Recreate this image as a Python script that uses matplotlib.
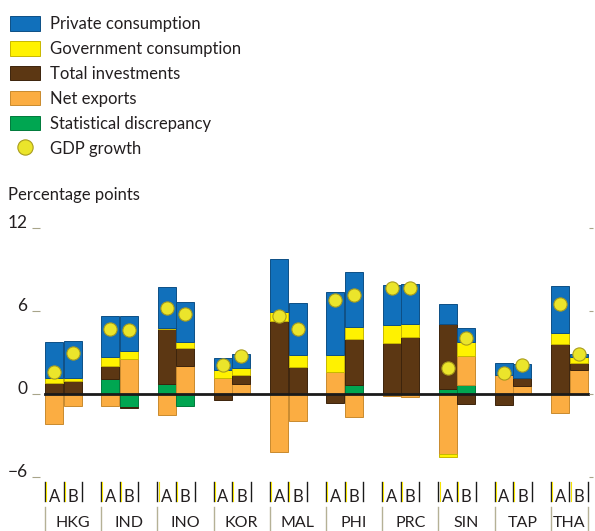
import numpy as np
import matplotlib.pyplot as plt
from matplotlib.patches import Patch
from matplotlib.lines import Line2D

plt.rcParams['font.family'] = ['Lato', 'DejaVu Sans']

countries = ['HKG', 'IND', 'INO', 'KOR', 'MAL', 'PHI', 'PRC', 'SIN', 'TAP', 'THA']

# A and B values for each country, percentage points
private_A = [2.60, 3.00, 2.97, 0.92, 3.79, 4.60, 2.93, 1.42, 0.91, 3.42]
private_B = [2.68, 2.52, 2.91, 0.99, 3.79, 3.96, 2.86, 0.99, 0.99, 0.17]
gov_A = [0.31, 0.66, 0.10, 0.52, 0.67, 1.20, 1.26, -0.19, 0.00, 0.79]
gov_B = [0.22, 0.60, 0.43, 0.50, 0.87, 0.89, 0.98, 1.01, 0.00, 0.43]
inv_A = [0.82, 0.94, 3.95, -0.45, 5.30, -0.65, 3.70, 4.74, -0.79, 3.63]
inv_B = [0.91, -0.05, 1.30, 0.62, 1.94, 3.31, 4.10, -0.76, 0.55, 0.53]
netexp_A = [-2.18, -0.90, -1.53, 1.18, -4.20, 1.61, -0.15, -4.39, 1.35, -1.39]
netexp_B = [-0.91, 2.50, 2.01, 0.75, -1.94, -1.65, -0.20, 2.10, 0.60, 1.73]
disc_A = [0.00, 1.06, 0.75, 0.00, 0.00, 0.00, 0.00, 0.34, 0.00, 0.00]
disc_B = [0.00, -0.98, -0.86, 0.00, 0.00, 0.65, 0.00, 0.68, 0.00, 0.00]
gdp_A = [1.58, 4.70, 6.26, 2.06, 5.64, 6.81, 7.68, 1.90, 1.49, 6.50]
gdp_B = [2.98, 4.60, 5.78, 2.78, 4.68, 7.15, 7.68, 4.06, 2.11, 2.86]

labels = ['Private consumption', 'Government consumption', 'Total investments',
          'Net exports', 'Statistical discrepancy']
colors = ['#1170bb', '#fff200', '#5c3713', '#fbad42', '#00a651']
edges = ['#0d4f86', '#c8b800', '#3d240c', '#c98a2e', '#007a3b']

# stacking order from the zero line outward
stack_A = [disc_A, netexp_A, inv_A, gov_A, private_A]
stack_B = [disc_B, netexp_B, inv_B, gov_B, private_B]
stack_col = [4, 3, 2, 1, 0]

fig = plt.figure(figsize=(5.95, 5.31), dpi=100)
ax = fig.add_axes([40 / 595, 54.3 / 531, 553 / 595, 248.4 / 531])

w = 0.33
x = np.arange(len(countries))
xA = x + w / 2
xB = x + w * 1.5

for xs, stack in [(xA, stack_A), (xB, stack_B)]:
    pos = np.zeros(len(countries))
    neg = np.zeros(len(countries))
    for vals, ci in zip(stack, stack_col):
        v = np.array(vals)
        bottom = np.where(v >= 0, pos, neg)
        ax.bar(xs, v, w * 0.97, bottom=bottom, color=colors[ci],
               edgecolor=edges[ci], linewidth=0.7, zorder=2)
        pos = pos + np.where(v > 0, v, 0)
        neg = neg + np.where(v < 0, v, 0)

ax.plot(xA, gdp_A, 'o', ms=9.5, mfc='#ebe52b', mec='#a99c1c', mew=0.8, zorder=4)
ax.plot(xB, gdp_B, 'o', ms=9.5, mfc='#ebe52b', mec='#a99c1c', mew=0.8, zorder=4)

ax.plot([xA[0] - w / 2, xB[-1] + w / 2], [0, 0], color='#1a1a1a', lw=2, zorder=3)

ax.set_xlim(-0.089, 9.75)
ax.set_ylim(-6, 12)
ax.set_yticks([-6, 0, 6, 12])
ax.set_yticklabels(['\u22126', '0', '6', '12'], fontsize=12.5, color='#231f20')
ax.tick_params(axis='y', length=6, width=0.8, color='#a8a48a', pad=3)
for lab in ax.get_yticklabels():
    lab.set_verticalalignment('baseline')
ax.set_xticks([])
for s in ax.spines.values():
    s.set_visible(False)
ax2 = ax.twinx()
ax2.set_ylim(-6, 12)
ax2.set_yticks([-6, 0, 6, 12])
ax2.set_yticklabels([])
ax2.tick_params(axis='y', length=3, width=0.8, color='#a8a48a', direction='in')
for s in ax2.spines.values():
    s.set_visible(False)

# category axis below the plot
trans = ax.get_xaxis_transform()
def fy(p):
    # pixel row from the top of the figure -> axes fraction
    return (531 - p - 54.3) / 248.4

right_end = xB[-1] + w / 2
for i in range(len(countries)):
    for xe in [xA[i] - w / 2, xA[i] + w / 2, xB[i] + w / 2]:
        ax.plot([xe, xe], [fy(482), fy(501)], color='#1a1a1a', lw=1.0,
                transform=trans, clip_on=False)
    for xe in [xA[i] - w / 2, xA[i] + w / 2]:
        ax.plot([xe + 0.02, xe + 0.02], [fy(482), fy(501)], color='#f5e400',
                lw=0.8, transform=trans, clip_on=False)
    ax.text(xA[i], fy(497), 'A', ha='center', va='center', fontsize=12,
            color='#231f20', transform=trans, clip_on=False)
    ax.text(xB[i], fy(497), 'B', ha='center', va='center', fontsize=12,
            color='#231f20', transform=trans, clip_on=False)
    ax.plot([x[i], x[i]], [fy(507), fy(531)], color='#b5b196', lw=1.0,
            transform=trans, clip_on=False)
    xr = min(x[i] + 1, right_end)
    ax.text((x[i] + xr) / 2, fy(523), countries[i], ha='center', va='center',
            fontsize=11.5, color='#231f20', transform=trans, clip_on=False)
ax.plot([right_end, right_end], [fy(507), fy(531)], color='#b5b196', lw=1.0,
        transform=trans, clip_on=False)

fig.text(8 / 595, 1 - 195 / 531, 'Percentage points', fontsize=12,
         color='#231f20', va='center')

handles = [Patch(facecolor=colors[k], edgecolor=edges[k], linewidth=0.7)
           for k in range(5)]
handles.append(Line2D([], [], marker='o', ls='none', ms=11, mfc='#ebe52b',
                      mec='#a99c1c', mew=0.8))
fig.legend(handles, labels + ['GDP growth'], loc='upper left',
           bbox_to_anchor=(-3 / 595, 1 - 3 / 531), frameon=False, fontsize=12,
           handlelength=1.75, handleheight=0.95, handletextpad=0.6,
           labelspacing=0.53, borderpad=0.3, labelcolor='#231f20')

fig.savefig('out.png', dpi=100)
